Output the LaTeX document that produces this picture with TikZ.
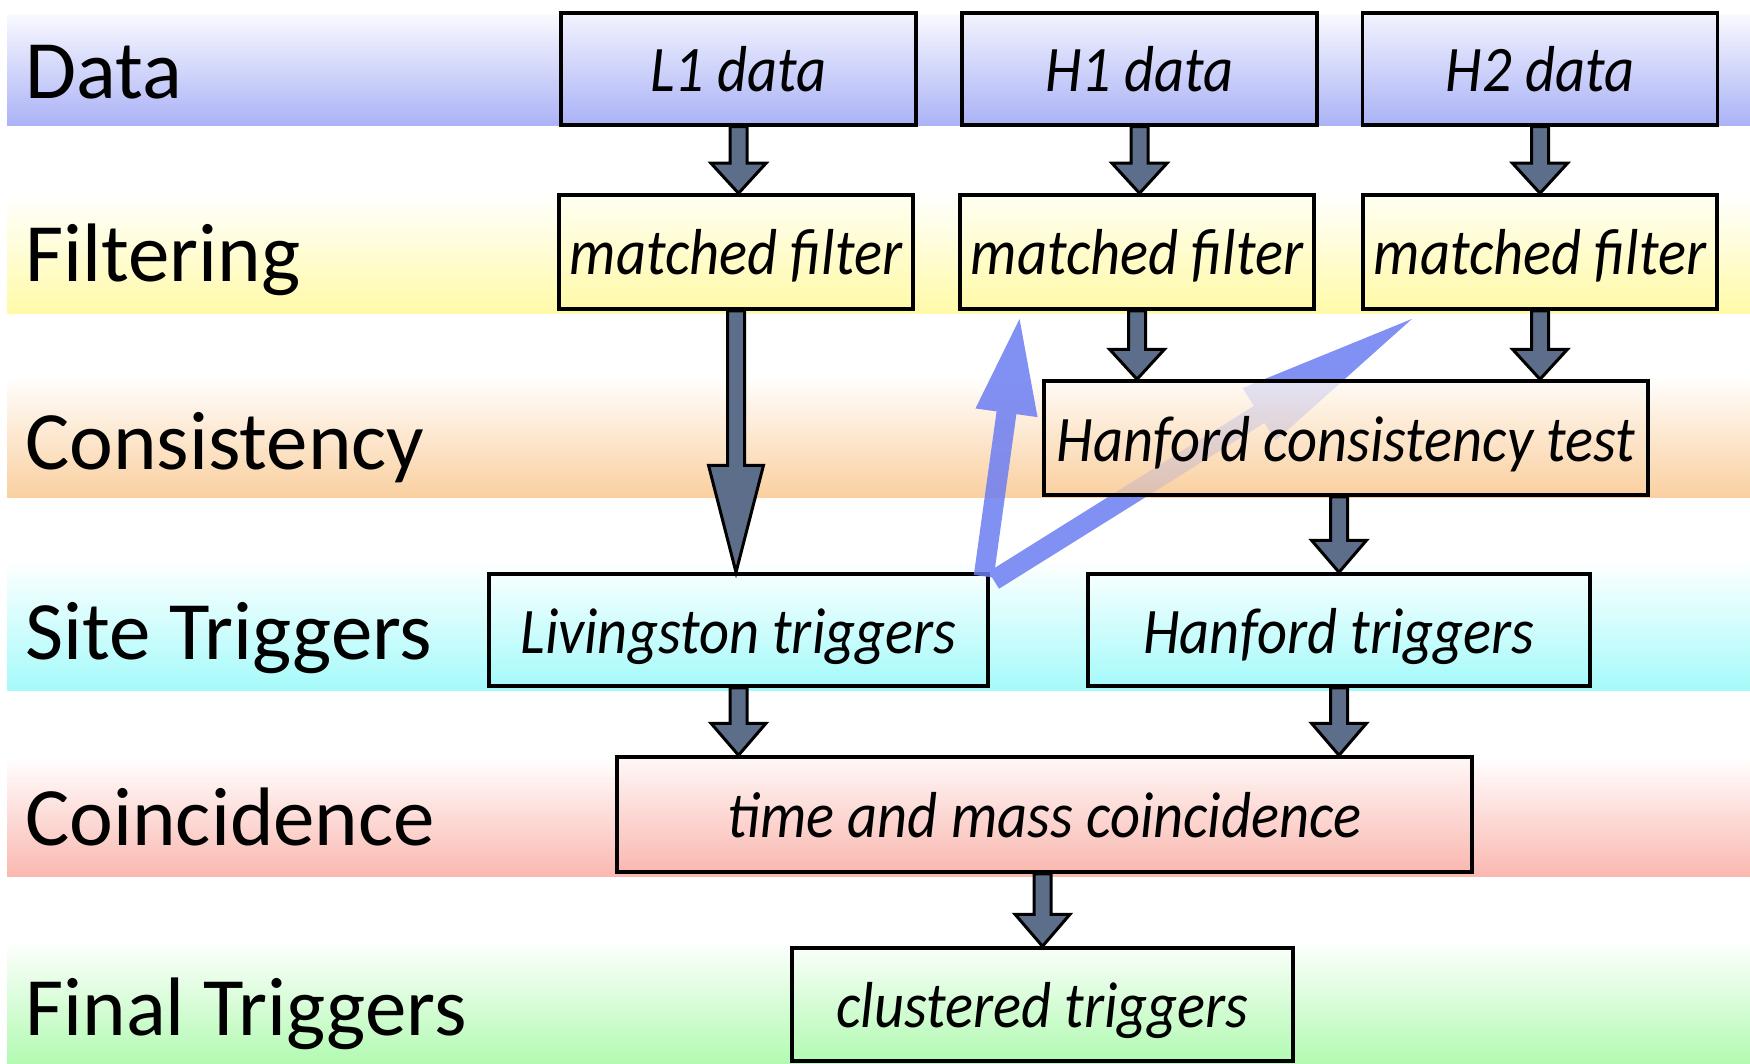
\documentclass[tikz,border=0pt]{standalone}
\usepackage{fontspec}
\setmainfont{Carlito}
\newfontfamily\boxfont{Carlito}[FakeStretch=0.9]
\usetikzlibrary{arrows.meta,calc}
\definecolor{cData}{RGB}{170,178,246}
\definecolor{cFilt}{RGB}{255,250,168}
\definecolor{cCons}{RGB}{250,208,160}
\definecolor{cSite}{RGB}{166,250,250}
\definecolor{cCoin}{RGB}{250,184,176}
\definecolor{cFin}{RGB}{178,250,178}
\definecolor{gArr}{RGB}{93,110,138}
\definecolor{bArr}{RGB}{108,125,242}
\pgfdeclarelayer{bandlayer}
\pgfdeclarelayer{bluelayer}
\pgfdeclarelayer{toplayer}
\pgfsetlayers{bandlayer,main,bluelayer,toplayer}
\tikzset{
  lab/.style={anchor=base west, inner sep=0pt, font=\fontsize{41.5}{44}\selectfont},
  bx/.style={draw, line width=1.75pt, inner sep=0pt, text height=23pt, text depth=0pt,
    font=\boxfont\itshape\fontsize{32.5}{36}\selectfont},
  garrow/.style={draw=black, fill=gArr, line width=1.5pt, line join=miter},
  barrow/.style={draw=bArr, line width=10pt, line cap=butt}
}
\newcommand\garr[3]{%
  \filldraw[garrow] let \p1=(#1), \p2=(#2) in
   (\x1-4.25pt,\y1) -- (\x1-4.25pt,\y2+#3) -- (\x1-13.75pt,\y2+#3) -- (\x1,\y2)
   -- (\x1+13.75pt,\y2+#3) -- (\x1+4.25pt,\y2+#3) -- (\x1+4.25pt,\y1) -- cycle;}
\begin{document}
\begin{tikzpicture}[x=0.5pt,y=-0.5pt]
\useasboundingbox (0,0) rectangle (1750,1064);
% bands
\begin{pgfonlayer}{bandlayer}
\fill[white] (0,0) rectangle (1750,1064);
\shade[top color=cData!8!white, bottom color=cData] (7,15) rectangle (1750,126);
\shade[top color=white, bottom color=cFilt] (7,193) rectangle (1750,313);
\shade[top color=white, bottom color=cCons] (7,375) rectangle (1750,497);
\shade[top color=white, bottom color=cSite] (7,560) rectangle (1750,690);
\shade[top color=white, bottom color=cCoin] (7,757) rectangle (1750,876);
\shade[top color=white, bottom color=cFin] (7,940) rectangle (1750,1064);
\end{pgfonlayer}
% row labels
\node[lab] (tData) at (25,99) {Data};
\node[lab] (tFilt) at (25,282) {Filtering};
\node[lab] (tCons) at (25,469) {Consistency};
\node[lab] (tSite) at (25,659) {Site Triggers};
\node[lab] (tCoin) at (25,845) {Coincidence};
\node[lab] (tFin) at (25,1035) {Final Triggers};
% boxes
\node[bx, top color=cData!15!white, bottom color=cData, minimum width=177.5pt, minimum height=56pt] (l1) at (738.5,69) {L1 data};
\node[bx, top color=cData!15!white, bottom color=cData, minimum width=177.5pt, minimum height=56pt] (h1) at (1139.5,69) {H1 data};
\node[bx, top color=cData!15!white, bottom color=cData, minimum width=177.5pt, minimum height=56pt] (h2) at (1540,69) {H2 data};
\node[bx, top color=cFilt!15!white, bottom color=cFilt, minimum width=177pt, minimum height=57pt] (mf1) at (736,252) {matched filter};
\node[bx, top color=cFilt!15!white, bottom color=cFilt, minimum width=177pt, minimum height=57pt] (mf2) at (1137,252) {matched filter};
\node[bx, top color=cFilt!15!white, bottom color=cFilt, minimum width=177pt, minimum height=57pt] (mf3) at (1540,252) {matched filter};
\begin{pgfonlayer}{toplayer}
\node[bx, top color=cCons!10!white, bottom color=cCons, fill opacity=0.78, text opacity=1, draw opacity=1, minimum width=302pt, minimum height=57pt] (hct) at (1346,438) {Hanford consistency test};
\end{pgfonlayer}
\node[bx, top color=cSite!10!white, bottom color=cSite, minimum width=249.5pt, minimum height=56pt] (lt) at (738.5,630) {Livingston triggers};
\node[bx, top color=cSite!10!white, bottom color=cSite, minimum width=251pt, minimum height=56pt] (ht) at (1339,630) {Hanford triggers};
\node[bx, top color=cCoin!10!white, bottom color=cCoin, minimum width=427.5pt, minimum height=57.5pt] (tmc) at (1044.5,814.5) {time and mass coincidence};
\node[bx, top color=cFin!8!white, bottom color=cFin, minimum width=250.5pt, minimum height=56.5pt] (ct) at (1042.5,1004.5) {clustered triggers};
% gray block arrows
\garr{l1.south}{l1.south |- mf1.north}{15pt}
\garr{h1.south}{h1.south |- mf2.north}{15pt}
\garr{h2.south}{h2.south |- mf3.north}{15pt}
\garr{mf1.south}{mf1.south |- lt.north}{53.5pt}
\garr{mf2.south}{mf2.south |- hct.north}{15pt}
\garr{mf3.south}{mf3.south |- hct.north}{15pt}
\garr{ht.north |- hct.south}{ht.north}{16pt}
\garr{lt.south}{lt.south |- tmc.north}{16pt}
\garr{ht.south}{ht.south |- tmc.north}{16pt}
\garr{ct.north |- tmc.south}{ct.north}{16pt}
% blue feedback arrows
\coordinate (bTipA) at ($(mf2.south west)+(62,3)$);
\coordinate (bTipB) at ($(mf3.south west)+(59,3)$);
\begin{pgfonlayer}{bluelayer}
\begin{scope}[transparency group, opacity=0.85]
\draw[barrow, -{Triangle[length=50pt,width=28pt]}] ([xshift=-3pt,yshift=-2pt]lt.north east) -- (bTipA);
\draw[barrow, -{Triangle[length=95pt,width=28pt]}] ([xshift=2pt,yshift=-4pt]lt.north east) -- (bTipB);
\end{scope}
\end{pgfonlayer}
\end{tikzpicture}
\end{document}
